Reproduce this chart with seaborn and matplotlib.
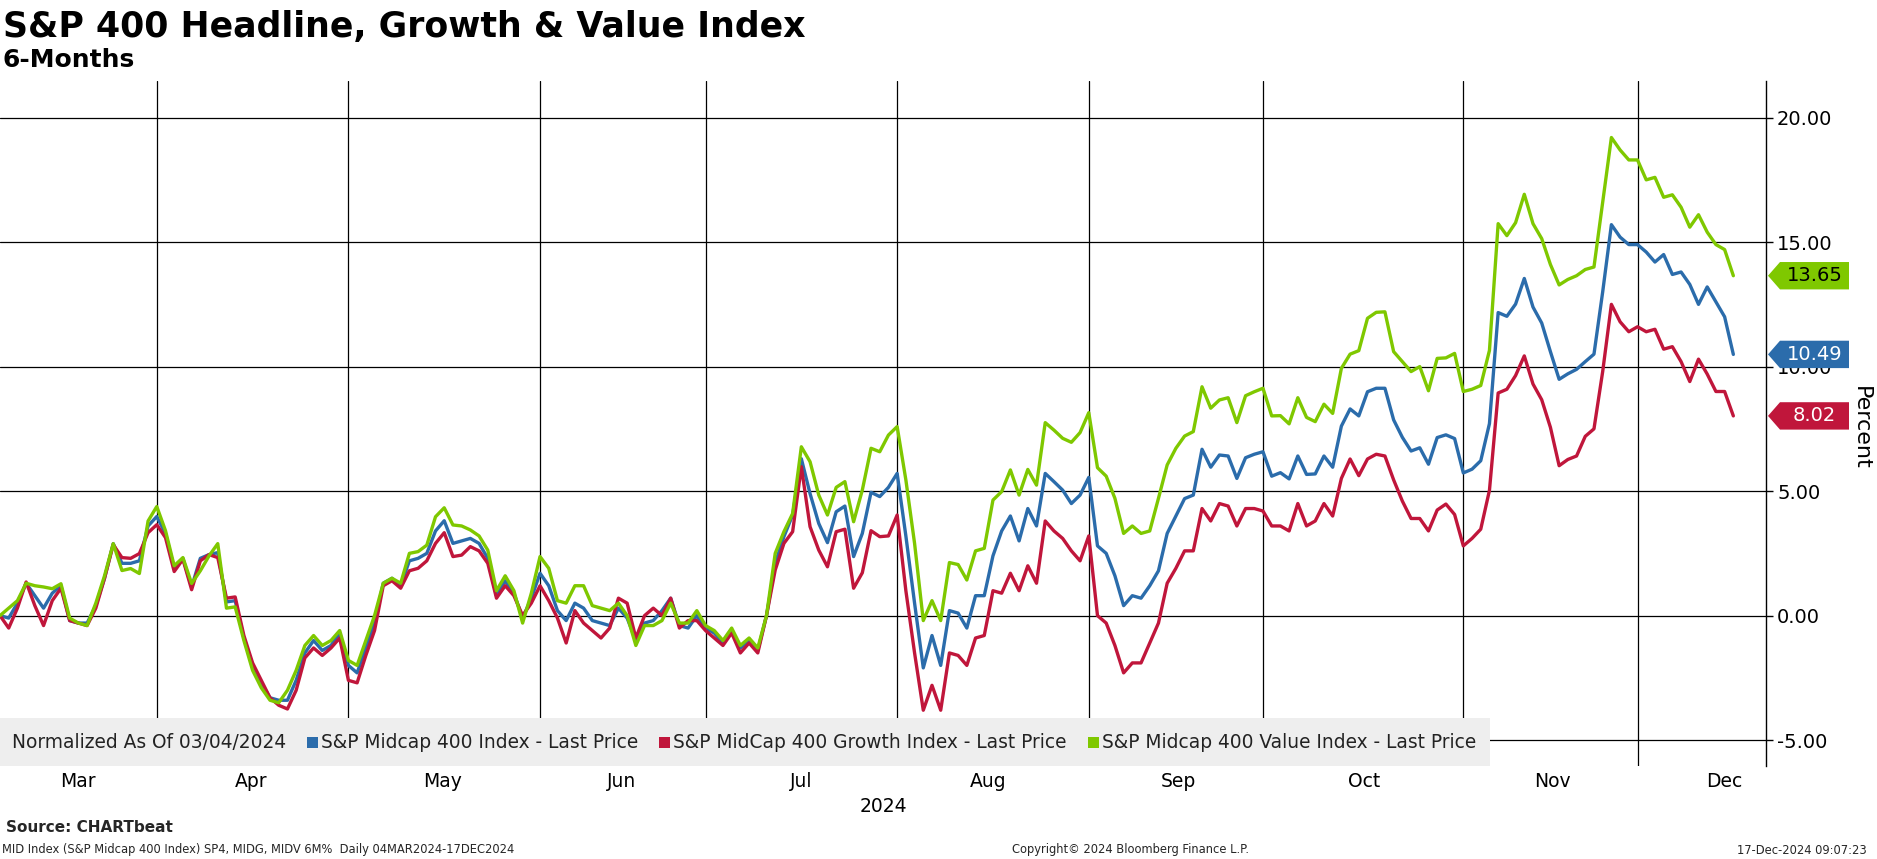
import numpy as np
import pandas as pd
import matplotlib
matplotlib.use("Agg")
import matplotlib.pyplot as plt
import matplotlib.transforms as mtransforms
from matplotlib.patches import Polygon, Rectangle
from matplotlib.ticker import FormatStrFormatter, FixedLocator
import seaborn as sns

# ---------------- data (trading days from 04-Mar-2024, % change) ----------------
trading_day = list(range(200))

headline = [
    0.0, -0.1, 0.5, 1.3, 0.8, 0.3, 0.9, 1.2, -0.2, -0.3,
    -0.3, 0.4, 1.5, 2.89, 2.1, 2.1, 2.2, 3.6, 3.98, 3.3,
    1.9, 2.3, 1.15, 2.3, 2.45, 2.53, 0.55, 0.6, -0.9, -2.0,
    -2.7, -3.3, -3.4, -3.4, -2.6, -1.5, -1.0, -1.4, -1.2, -0.7,
    -2.0, -2.3, -1.3, -0.3, 1.3, 1.5, 1.2, 2.2, 2.3, 2.5,
    3.4, 3.81, 2.9, 3.0, 3.1, 2.9, 2.3, 0.8, 1.4, 0.9,
    -0.1, 0.7, 1.7, 1.2, 0.2, -0.2, 0.5, 0.3, -0.2, -0.3,
    -0.4, 0.3, -0.1, -1.0, -0.3, -0.2, 0.2, 0.7, -0.4, -0.5,
    0.0, -0.5, -0.7, -1.1, -0.6, -1.3, -1.0, -1.4, 0.0, 2.1,
    3.17, 4.04, 6.3, 4.9, 3.7, 2.93, 4.17, 4.4, 2.37, 3.3,
    4.95, 4.78, 5.15, 5.71, 3.2, 0.5, -2.1, -0.8, -2.0, 0.2,
    0.1, -0.5, 0.8, 0.8, 2.4, 3.4, 4.0, 3.0, 4.3, 3.6,
    5.71, 5.38, 5.04, 4.5, 4.84, 5.55, 2.8, 2.5, 1.6, 0.4,
    0.8, 0.7, 1.2, 1.8, 3.3, 4.0, 4.7, 4.84, 6.68, 5.96,
    6.45, 6.41, 5.51, 6.34, 6.48, 6.58, 5.6, 5.74, 5.49, 6.41,
    5.67, 5.69, 6.41, 5.96, 7.61, 8.3, 8.02, 8.99, 9.13, 9.13,
    7.86, 7.16, 6.61, 6.74, 6.08, 7.15, 7.26, 7.11, 5.73, 5.88,
    6.22, 7.71, 12.17, 12.02, 12.51, 13.54, 12.39, 11.75, 10.6, 9.49,
    9.71, 9.89, 10.2, 10.5, 13.0, 15.7, 15.2, 14.9, 14.9, 14.6,
    14.2, 14.5, 13.7, 13.8, 13.3, 12.5, 13.2, 12.6, 12.0, 10.49,
]

growth = [
    0.0, -0.5, 0.3, 1.35, 0.4, -0.4, 0.6, 1.1, -0.2, -0.3,
    -0.4, 0.3, 1.5, 2.85, 2.33, 2.3, 2.49, 3.33, 3.65, 3.13,
    1.77, 2.26, 1.04, 2.2, 2.45, 2.33, 0.7, 0.75, -0.8, -1.9,
    -2.6, -3.3, -3.6, -3.75, -3.0, -1.7, -1.3, -1.6, -1.3, -0.9,
    -2.6, -2.7, -1.6, -0.6, 1.2, 1.4, 1.1, 1.8, 1.9, 2.2,
    2.9, 3.33, 2.37, 2.43, 2.77, 2.6, 2.1, 0.7, 1.2, 0.8,
    0.0, 0.5, 1.2, 0.6, -0.1, -1.1, 0.2, -0.3, -0.6, -0.9,
    -0.5, 0.7, 0.5, -0.9, 0.0, 0.3, 0.0, 0.7, -0.5, -0.2,
    -0.2, -0.6, -0.9, -1.2, -0.7, -1.5, -1.1, -1.5, 0.0, 1.83,
    2.9, 3.37, 5.98, 3.57, 2.63, 1.96, 3.37, 3.47, 1.1, 1.72,
    3.41, 3.17, 3.2, 4.04, 1.0, -1.5, -3.8, -2.8, -3.8, -1.5,
    -1.6, -2.0, -0.9, -0.8, 1.0, 0.9, 1.7, 1.0, 2.0, 1.3,
    3.8, 3.4, 3.1, 2.6, 2.2, 3.2, 0.0, -0.3, -1.2, -2.3,
    -1.9, -1.9, -1.1, -0.3, 1.3, 1.9, 2.6, 2.6, 4.3, 3.8,
    4.5, 4.4, 3.6, 4.3, 4.3, 4.2, 3.6, 3.6, 3.4, 4.5,
    3.6, 3.8, 4.5, 4.0, 5.51, 6.29, 5.62, 6.29, 6.48, 6.41,
    5.45, 4.6, 3.9, 3.9, 3.4, 4.24, 4.48, 4.06, 2.8, 3.1,
    3.47, 5.03, 8.94, 9.09, 9.64, 10.43, 9.3, 8.67, 7.56, 6.02,
    6.27, 6.41, 7.2, 7.5, 9.8, 12.5, 11.8, 11.4, 11.6, 11.4,
    11.5, 10.7, 10.8, 10.2, 9.4, 10.3, 9.7, 9.0, 9.0, 8.02,
]

value = [
    0.0, 0.3, 0.6, 1.3, 1.2, 1.15, 1.08, 1.28, -0.1, -0.3,
    -0.4, 0.5, 1.6, 2.89, 1.81, 1.89, 1.69, 3.8, 4.38, 3.41,
    2.0, 2.33, 1.29, 1.8, 2.4, 2.89, 0.3, 0.35, -1.0, -2.2,
    -2.9, -3.4, -3.5, -3.0, -2.2, -1.2, -0.8, -1.2, -1.0, -0.6,
    -1.8, -2.0, -1.0, 0.0, 1.3, 1.5, 1.3, 2.5, 2.57, 2.83,
    3.97, 4.33, 3.64, 3.6, 3.44, 3.2, 2.63, 1.0, 1.6, 1.0,
    -0.3, 0.9, 2.37, 1.9, 0.6, 0.5, 1.2, 1.2, 0.4, 0.3,
    0.2, 0.5, 0.0, -1.2, -0.4, -0.4, -0.2, 0.5, -0.3, -0.3,
    0.2, -0.4, -0.6, -1.0, -0.5, -1.2, -0.9, -1.3, 0.0, 2.5,
    3.37, 4.1, 6.78, 6.18, 4.84, 4.04, 5.15, 5.38, 3.77, 5.04,
    6.72, 6.58, 7.25, 7.59, 5.45, 2.9, -0.2, 0.6, -0.2, 2.13,
    2.05, 1.43, 2.6, 2.7, 4.64, 4.98, 5.85, 4.84, 5.87, 5.24,
    7.75, 7.45, 7.12, 6.96, 7.35, 8.15, 5.94, 5.6, 4.71, 3.3,
    3.6, 3.3, 3.4, 4.71, 6.05, 6.72, 7.21, 7.39, 9.19, 8.33,
    8.66, 8.75, 7.75, 8.83, 8.99, 9.13, 8.02, 8.03, 7.7, 8.75,
    7.96, 7.79, 8.49, 8.12, 9.93, 10.5, 10.64, 11.94, 12.18, 12.2,
    10.6, 10.2, 9.8, 10.0, 9.03, 10.33, 10.35, 10.53, 9.0, 9.09,
    9.24, 10.65, 15.74, 15.26, 15.78, 16.92, 15.74, 15.14, 14.1, 13.28,
    13.5, 13.65, 13.9, 14.0, 16.6, 19.2, 18.7, 18.3, 18.3, 17.5,
    17.6, 16.8, 16.9, 16.4, 15.6, 16.1, 15.4, 14.9, 14.7, 13.65,
]

series_names = [
    "S&P Midcap 400 Index - Last Price",
    "S&P MidCap 400 Growth Index - Last Price",
    "S&P Midcap 400 Value Index - Last Price",
]
series_colors = ["#2b6cab", "#c0163b", "#7fc800"]
tag_text_colors = ["white", "white", "black"]

month_end_days = [18, 40, 62, 81, 103, 125, 145, 168, 188]
month_label_days = [9, 28.8, 50.8, 71.4, 92, 113.4, 135.3, 156.6, 178.2, 197.9]
month_labels = ["Mar", "Apr", "May", "Jun", "Jul", "Aug", "Sep", "Oct", "Nov", "Dec"]
y_ticks = [-5, 0, 5, 10, 15, 20]

# ---------------- figure ----------------
W, H = 1877, 859
sns.set_theme(style="white")
plt.rcParams["font.family"] = ["DejaVu Sans"]

fig = plt.figure(figsize=(W / 100, H / 100), dpi=100)
fig.patch.set_facecolor("white")

ax_left, ax_right, ax_top, ax_bottom = 0, 1766, 81, 766
ax = fig.add_axes([ax_left / W, 1 - ax_bottom / H, (ax_right - ax_left) / W, (ax_bottom - ax_top) / H])
ax.set_facecolor("white")

df = pd.concat([
    pd.DataFrame({"day": trading_day, "pct": vals, "series": name})
    for vals, name in zip([headline, growth, value], series_names)
])
sns.lineplot(data=df, x="day", y="pct", hue="series", hue_order=series_names,
             palette=series_colors, linewidth=2.4, legend=False, ax=ax, zorder=5)

ax.set_xlim(0, 202.75)
ax.set_ylim(-6.04, 21.47)
ax.set_xlabel("")
ax.set_ylabel("")

# grid
ax.xaxis.set_minor_locator(FixedLocator(month_end_days))
ax.set_xticks(month_label_days)
ax.set_xticklabels(month_labels, fontsize=13.5, color="black")
ax.tick_params(axis="x", which="both", length=0, pad=4)
ax.xaxis.grid(True, which="minor", color="black", linewidth=0.9)
ax.xaxis.grid(False, which="major")

ax.yaxis.tick_right()
ax.set_yticks(y_ticks)
ax.yaxis.set_major_formatter(FormatStrFormatter("%.2f"))
ax.tick_params(axis="y", which="major", direction="out", length=5, width=1,
               pad=3, labelsize=14, colors="black", right=True, left=False)
ax.yaxis.grid(True, which="major", color="black", linewidth=0.9)
ax.set_axisbelow(True)

for s in ["left", "top", "bottom"]:
    ax.spines[s].set_visible(False)
ax.spines["right"].set_visible(True)
ax.spines["right"].set_color("black")
ax.spines["right"].set_linewidth(1.0)


def fx(px):
    return px / W


def fy(py):
    return 1 - py / H


# last value tags
tr = mtransforms.blended_transform_factory(fig.transFigure, ax.transData)
half = 0.55
for vals, col, tcol in zip([headline, growth, value], series_colors, tag_text_colors):
    v = vals[-1]
    tip, body0, body1 = fx(1768), fx(1780), fx(1849)
    poly = Polygon([(tip, v), (body0, v + half), (body1, v + half), (body1, v - half), (body0, v - half)],
                   closed=True, transform=tr, facecolor=col, edgecolor="none", clip_on=False, zorder=30)
    ax.add_patch(poly)
    ax.text((body0 + body1) / 2, v, f"{v:.2f}", transform=tr, ha="center", va="center",
            fontsize=14, color=tcol, zorder=31, clip_on=False)

# legend strip
fig.patches.append(Rectangle((0, fy(766)), fx(1490), fy(718) - fy(766), transform=fig.transFigure,
                             facecolor="#eeeeee", edgecolor="none", zorder=1))
fig.canvas.draw()
renderer = fig.canvas.get_renderer()
yc = fy(742)
leg_fs = 13.4
t = fig.text(fx(12), yc, "Normalized As Of 03/04/2024", ha="left", va="center", fontsize=leg_fs,
             color="#222222", zorder=3)
x_px = t.get_window_extent(renderer).x1
for name, col in zip(series_names, series_colors):
    x_px += 21
    sq = 11
    fig.patches.append(Rectangle((fx(x_px), fy(742 + sq / 2)), fx(sq), fy(742 - sq / 2) - fy(742 + sq / 2),
                                 transform=fig.transFigure, facecolor=col, edgecolor="none", zorder=2))
    x_px += sq + 3
    tt = fig.text(fx(x_px), yc, name, ha="left", va="center", fontsize=leg_fs, color="#222222", zorder=3)
    x_px = tt.get_window_extent(renderer).x1

# titles
fig.text(fx(3), fy(37), "S&P 400 Headline, Growth & Value Index", ha="left", va="baseline",
         fontsize=25, fontweight="bold", color="black")
fig.text(fx(3), fy(67), "6-Months", ha="left", va="baseline", fontsize=18, fontweight="bold", color="black")

# axis extras
fig.text(fx(883), fy(806), "2024", ha="center", va="center", fontsize=13.5, color="black")
fig.text(fx(1861), fy(428), "Percent", ha="center", va="center", rotation=270, fontsize=16, color="black")

# footer
fig.text(fx(6), fy(828), "Source: CHARTbeat", ha="left", va="center", fontsize=11, fontweight="bold")
fig.text(fx(2), fy(850), "MID Index (S&P Midcap 400 Index) SP4, MIDG, MIDV 6M%  Daily 04MAR2024-17DEC2024",
         ha="left", va="center", fontsize=8.3)
fig.text(fx(1131), fy(850), "Copyright\u00a9 2024 Bloomberg Finance L.P.", ha="center", va="center", fontsize=8.3)
fig.text(fx(1867), fy(850), "17-Dec-2024 09:07:23", ha="right", va="center", fontsize=8.3)

fig.savefig("out.png", dpi=100, facecolor="white")
